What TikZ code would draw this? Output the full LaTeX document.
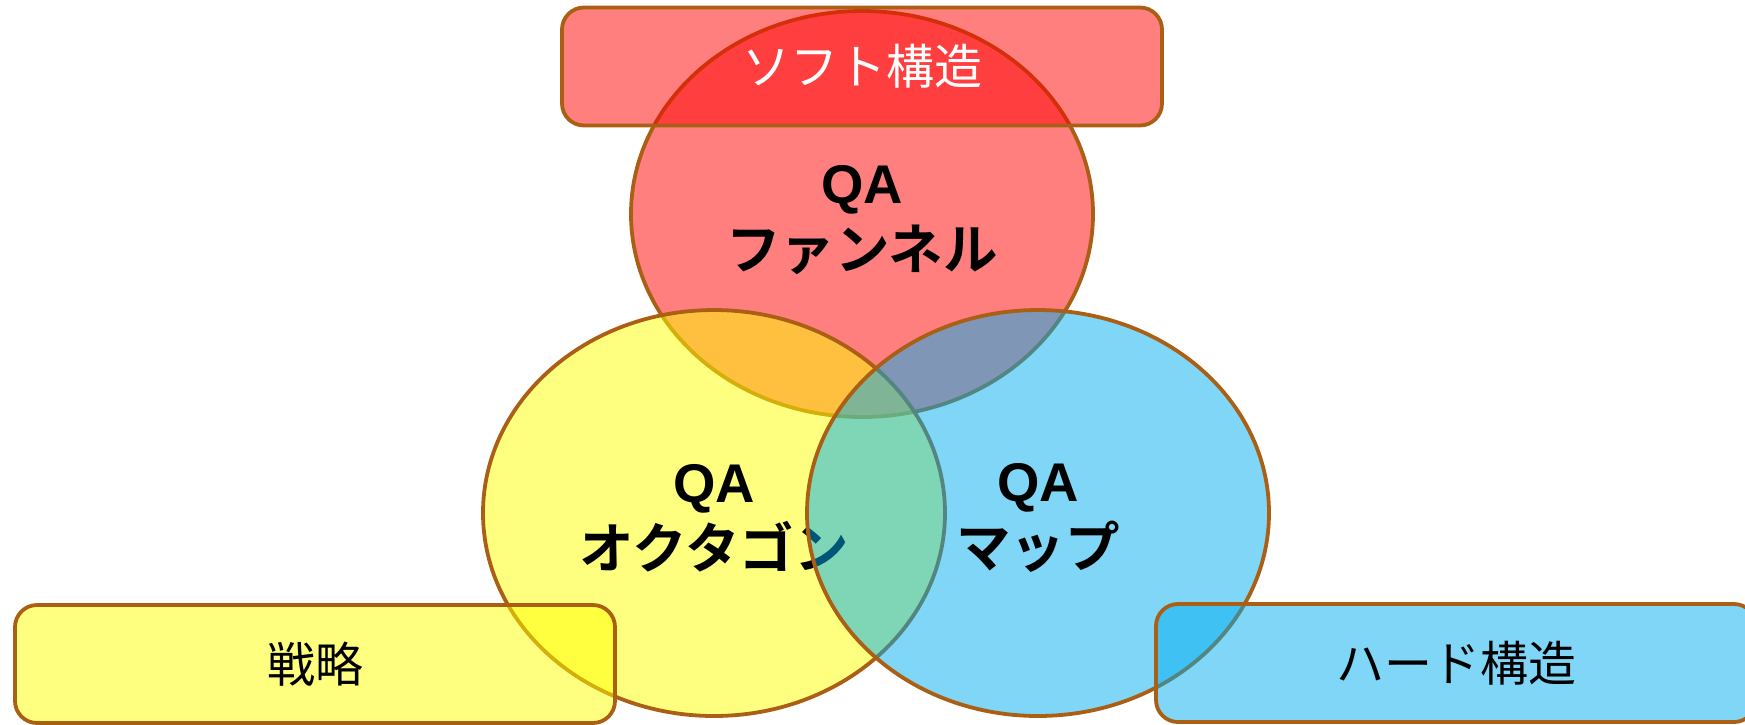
\documentclass[tikz,border=0pt]{standalone}
\usepackage{fontspec}
\newfontfamily\jp{Noto Sans CJK JP}
\newfontfamily\jpb{Noto Sans CJK JP Bold}
\newfontfamily\lat{Liberation Sans}
\definecolor{edge}{RGB}{170,95,20}
\definecolor{cred}{RGB}{255,0,0}
\definecolor{cyel}{RGB}{255,255,0}
\definecolor{cblu}{RGB}{0,173,239}
\tikzset{
  venn/.style={ellipse, draw=edge, line width=3.8pt, fill opacity=0.5, text opacity=1, minimum width=462pt, minimum height=406pt, inner sep=0pt},
  tag/.style={draw=edge, line width=3.8pt, rounded corners=22pt, fill opacity=0.5, text opacity=1, minimum width=600pt, minimum height=118pt, inner sep=0pt},
  ttl/.style={align=center, font=\fontsize{54.5}{66}\selectfont\jpb, text=black},
  tagtxt/.style={font=\fontsize{48}{50}\selectfont\jp}
}
\usetikzlibrary{shapes.geometric}
\begin{document}
\begin{tikzpicture}[x=1pt,y=-1pt]
\useasboundingbox (0,0) rectangle (1745,724);
\clip (0,0) rectangle (1745,724);
\node[venn, fill=cred] (red) at (862,214) {};
\node[ttl] (redtxt) at (862,220) {{\lat\bfseries QA}\\ファンネル};
\node[venn, fill=cyel] (yel) at (714,513) {};
\node[ttl] (yeltxt) at (714,518) {{\lat\bfseries QA}\\オクタゴン};
\node[venn, fill=cblu] (blu) at (1038,513) {};
\node[ttl] (blutxt) at (1038,518) {{\lat\bfseries QA}\\マップ};
\node[tag, fill=cred, tagtxt, text=white] (soft) at (862,66.5) {ソフト構造};
\node[tag, fill=cyel, tagtxt, text=black] (sen) at (315,664) {戦略};
\node[tag, fill=cblu, tagtxt, text=black] (hard) at (1456,663) {ハード構造};
\end{tikzpicture}
\end{document}
